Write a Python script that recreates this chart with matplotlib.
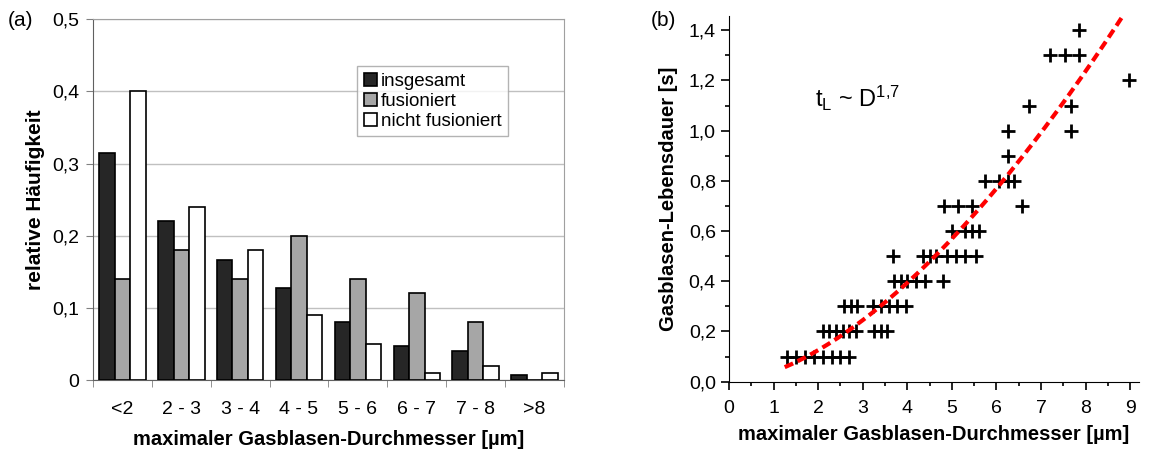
import numpy as np
import matplotlib.pyplot as plt
from matplotlib.ticker import FixedLocator, MultipleLocator, FuncFormatter

plt.rcParams['font.family'] = ['Liberation Sans', 'DejaVu Sans']

# (a) size distribution
categories = ['<2', '2 - 3', '3 - 4', '4 - 5', '5 - 6', '6 - 7', '7 - 8', '>8']
insgesamt = [0.314, 0.22, 0.167, 0.127, 0.08, 0.047, 0.04, 0.007]
fusioniert = [0.14, 0.18, 0.14, 0.2, 0.14, 0.12, 0.08, 0.0]
nicht_fusioniert = [0.40, 0.24, 0.18, 0.09, 0.05, 0.01, 0.02, 0.01]

# (b) lifetime vs diameter
durchmesser = [1.3, 1.5, 1.7, 1.9, 2.1, 2.3, 2.5, 2.7,
               2.1, 2.25, 2.4, 2.55, 2.7, 2.85, 3.25, 3.4, 3.55,
               2.58, 2.73, 2.87, 3.23, 3.41, 3.6, 3.78, 3.97,
               3.7, 3.85, 4.0, 4.2, 4.4, 4.8,
               3.68, 4.35, 4.5, 4.65, 4.9, 5.1, 5.3, 5.55,
               5.0, 5.3, 5.45, 5.6,
               4.82, 5.13, 5.45, 6.57,
               5.75, 6.05, 6.25, 6.4,
               6.25,
               6.25, 7.68,
               6.73, 7.68,
               8.97,
               7.2, 7.53, 7.85,
               7.85]
lebensdauer = [0.1] * 8 + [0.2] * 9 + [0.3] * 8 + [0.4] * 6 + [0.5] * 8 + \
              [0.6] * 4 + [0.7] * 4 + [0.8] * 4 + [0.9] + [1.0] * 2 + \
              [1.1] * 2 + [1.2] + [1.3] * 3 + [1.4]

fit_a, fit_exp = 0.040, 1.65
fit_range = (1.25, 8.85)

comma = FuncFormatter(lambda v, p: ('%g' % round(v, 2)).replace('.', ','))

fig = plt.figure(figsize=(11.49, 4.51), dpi=100)

# ---- panel (a)
ax1 = fig.add_axes([0.0809, 0.1574, 0.41, 0.800])
x = np.arange(len(categories))
w = 0.263
ax1.bar(x - w, insgesamt, w, color='#262626', edgecolor='black', lw=1.2, label='insgesamt', zorder=3)
ax1.bar(x, fusioniert, w, color='#a6a6a6', edgecolor='black', lw=1.2, label='fusioniert', zorder=3)
ax1.bar(x + w, nicht_fusioniert, w, color='white', edgecolor='black', lw=1.2, label='nicht fusioniert', zorder=3)
ax1.set_xlim(-0.5, len(categories) - 0.5)
ax1.set_ylim(0, 0.5)
ax1.yaxis.set_major_locator(MultipleLocator(0.1))
ax1.yaxis.set_major_formatter(comma)
ax1.grid(axis='y', color='#c0c0c0', lw=1, zorder=0)
ax1.set_xticks(x)
ax1.set_xticklabels(categories)
ax1.xaxis.set_minor_locator(FixedLocator(np.arange(-0.5, len(categories), 1)))
ax1.tick_params(axis='x', which='major', length=0, pad=15, labelsize=14)
ax1.tick_params(axis='x', which='minor', length=5, color='#808080', direction='out')
ax1.tick_params(axis='y', length=5, color='#808080', labelsize=14, pad=5)
for s in ['top', 'right']:
    ax1.spines[s].set_color('#a0a0a0')
for s in ['left', 'bottom']:
    ax1.spines[s].set_color('#606060')
ax1.set_ylabel('relative Häufigkeit', fontsize=15, fontweight='bold', labelpad=5)
ax1.set_xlabel('maximaler Gasblasen-Durchmesser [µm]', fontsize=14.5, fontweight='bold', labelpad=9)
leg = ax1.legend(loc='upper left', bbox_to_anchor=(0.561, 0.87), fontsize=13.5, frameon=True,
                 fancybox=False, edgecolor='#a0a0a0', handlelength=0.7, handleheight=0.7,
                 handletextpad=0.2, borderpad=0.35, labelspacing=0.15, borderaxespad=0)
leg.get_frame().set_linewidth(1)
fig.text(0.007, 0.955, '(a)', fontsize=15, va='center')

# ---- panel (b)
ax2 = fig.add_axes([0.6345, 0.1537, 0.3568, 0.811])
ax2.scatter(durchmesser, lebensdauer, marker='+', s=100, color='black', linewidths=2, zorder=3)
d_fit = np.linspace(fit_range[0], fit_range[1], 200)
ax2.plot(d_fit, fit_a * d_fit ** fit_exp, '--', color='#ff0000', lw=3, dashes=(2.2, 1.2), zorder=4)
ax2.set_xlim(0, 9.2)
ax2.set_ylim(0, 1.457)
ax2.xaxis.set_major_locator(MultipleLocator(1))
ax2.xaxis.set_minor_locator(MultipleLocator(0.5))
ax2.yaxis.set_major_locator(MultipleLocator(0.2))
ax2.yaxis.set_minor_locator(MultipleLocator(0.1))
ax2.yaxis.set_major_formatter(FuncFormatter(lambda v, p: ('%.1f' % v).replace('.', ',')))
ax2.spines['top'].set_visible(False)
ax2.spines['right'].set_visible(False)
ax2.tick_params(which='major', direction='out', length=6, width=1.2, labelsize=14)
ax2.tick_params(which='minor', direction='out', length=3, width=1.2)
ax2.tick_params(axis='x', pad=7)
ax2.set_ylabel('Gasblasen-Lebensdauer [s]', fontsize=14.5, fontweight='bold', labelpad=8)
ax2.set_xlabel('maximaler Gasblasen-Durchmesser [µm]', fontsize=14.5, fontweight='bold', labelpad=6)
ax2.text(1.93, 1.13, r'$\mathregular{t_L}$ ~ $\mathregular{D^{1{,}7}}$', fontsize=17, va='center')
fig.text(0.566, 0.955, '(b)', fontsize=15, va='center')

fig.savefig('out.png', dpi=100)
